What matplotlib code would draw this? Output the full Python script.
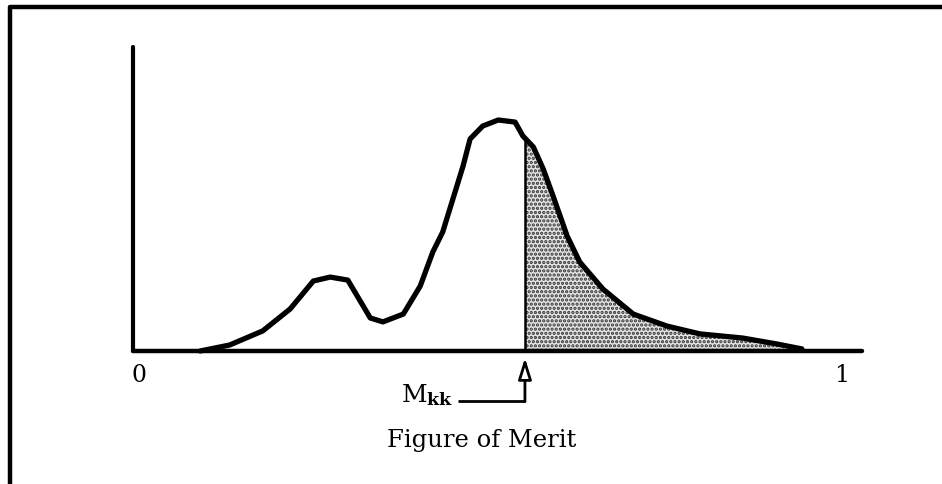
import numpy as np
import matplotlib.pyplot as plt
import matplotlib as mpl

mpl.rcParams.update({'font.family': 'DejaVu Serif', 'mathtext.fontset': 'dejavuserif',
                     'hatch.linewidth': 1.6})

# figure of merit (0..1) and relative frequency
fom = [0.087, 0.129, 0.176, 0.215, 0.248, 0.272, 0.297, 0.329, 0.347, 0.376,
       0.400, 0.418, 0.432, 0.461, 0.471, 0.489, 0.511, 0.535, 0.546, 0.561,
       0.575, 0.589, 0.609, 0.627, 0.660, 0.703, 0.751, 0.798, 0.859, 0.908, 0.943]
freq = [0.0, 0.026, 0.087, 0.182, 0.303, 0.320, 0.307, 0.143, 0.126, 0.160,
        0.281, 0.429, 0.515, 0.801, 0.918, 0.974, 1.0, 0.991, 0.931, 0.883,
        0.788, 0.671, 0.498, 0.385, 0.268, 0.160, 0.108, 0.074, 0.056, 0.030, 0.009]
m_kk = 0.549
x_ticks = [0, 1]
x_ticklabels = ['0', '1']
x_label = 'Figure of Merit'

fom = np.array(fom)
freq = np.array(freq)

fig = plt.figure(figsize=(9.42, 4.85), dpi=100)
ax = fig.add_axes([0, 0, 1, 1])
ax.set_xlim(-139 / 703, 803 / 703)
ax.set_ylim(-133 / 231, 352 / 231)
ax.axis('off')

# outer frame (top and left edges only, as in the scan)
ax.plot([-0.184, -0.184, 1.2], [-0.6, 1.489, 1.489], color='black', lw=3.2,
        solid_capstyle='butt')

# axes lines
ax.plot([-0.008, -0.008], [0, 1.316], color='black', lw=3, solid_capstyle='round')
ax.plot([-0.008, 1.028], [0, 0], color='black', lw=3.2, solid_capstyle='round')

# shaded tail above M_kk
y_cut = np.interp(m_kk, fom, freq)
tail = fom > m_kk
fx = np.concatenate([[m_kk], fom[tail]])
fy = np.concatenate([[y_cut], freq[tail]])
ax.fill_between(fx, 0, fy, facecolor='#e4e4e4', edgecolor='#333333', hatch='....',
                lw=0)
ax.plot([m_kk, m_kk], [0, y_cut], color='black', lw=1.8)

# distribution curve
ax.plot(fom, freq, color='black', lw=3.8, solid_joinstyle='round',
        solid_capstyle='round')

# tick labels
for t, lab in zip(x_ticks, x_ticklabels):
    ax.text(t, -0.1, lab, ha='center', va='center', fontsize=17)

# M_kk pointer
ax.annotate('', xy=(m_kk, -0.03), xytext=(m_kk, -0.219),
            arrowprops=dict(arrowstyle='-|>,head_length=0.8,head_width=0.25',
                            fc='white', ec='black', lw=2, shrinkA=0, shrinkB=0,
                            mutation_scale=16))
ax.plot([0.454, m_kk], [-0.217, -0.217], color='black', lw=2, solid_capstyle='butt')
ax.text(0.447, -0.217, r'M$_{\mathbf{kk}}$', ha='right', va='baseline', fontsize=18)

ax.text(0.488, -0.411, x_label, ha='center', va='baseline', fontsize=17.5)

fig.savefig('out.png', dpi=100, facecolor='white')
